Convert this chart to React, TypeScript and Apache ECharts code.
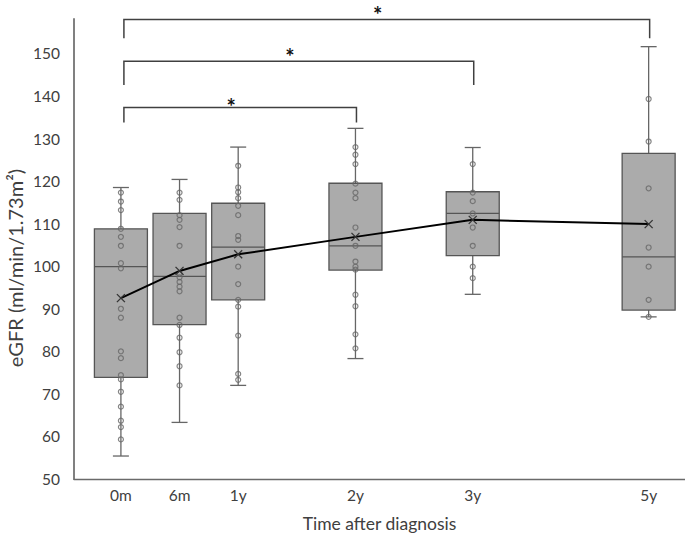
import React, { useEffect, useRef } from 'react';
import * as echarts from 'echarts';

// Categories and their position along the time axis
const categories = ['0m', '6m', '1y', '2y', '3y', '5y'];
const axisPositions = [0, 0.5, 1, 2, 3, 4.5];

// Box statistics
const whiskerMin = [55.4, 63.3, 72.0, 78.3, 93.4, 88.1];
const quartile1 = [73.9, 86.3, 92.1, 99.1, 102.5, 89.7];
const medians = [99.9, 97.6, 104.5, 104.8, 112.4, 102.2];
const quartile3 = [108.8, 112.4, 114.8, 119.5, 117.5, 126.5];
const whiskerMax = [118.5, 120.4, 128.0, 132.4, 127.9, 151.6];
const means = [92.5, 98.9, 102.8, 106.9, 110.9, 109.9];

// Individual points
const points0m = [117.3, 115.2, 113.2, 108.8, 106.9, 104.8, 100.7, 99.5, 90.0, 87.9, 80.0, 78.4, 74.4, 73.4, 70.5, 67.0, 63.7, 62.2, 59.3];
const points6m = [117.3, 115.6, 112.0, 110.9, 109.2, 104.8, 98.2, 97.4, 96.3, 95.2, 94.1, 87.9, 86.2, 83.2, 79.8, 76.5, 72.0];
const points1y = [123.6, 118.5, 117.4, 116.0, 114.2, 112.0, 107.1, 106.2, 99.9, 95.8, 92.1, 90.5, 83.7, 74.7, 73.3];
const points2y = [128.0, 126.2, 124.0, 119.4, 117.3, 116.0, 109.1, 104.8, 101.1, 99.9, 99.2, 93.3, 90.6, 84.0, 80.7];
const points3y = [124.0, 117.3, 115.3, 112.4, 109.1, 104.8, 99.9, 97.2];
const points5y = [139.3, 129.3, 118.3, 104.4, 99.9, 92.1, 88.1];
const pointGroups = [points0m, points6m, points1y, points2y, points3y, points5y];

// Significance brackets: [from index, to index]
const comparePairs = [[0, 3], [0, 4], [0, 5]];
const bracketTop = [137.3, 148.2, 158.0];
const bracketLegEnd = [133.8, 142.6, 153.6];
const significanceMark = ['*', '*', '*'];

// Y axis ticks
const yMin = 50;
const yMax = 158.1;
const yInterval = 10;
const yLabelMax = 150;

const FONT = 'Lato, "Noto Sans", sans-serif';
const STAR_LIFT = [1, 5, 5];

export default function App() {
  const ref = useRef<HTMLDivElement>(null);

  useEffect(() => {
    if (!ref.current) return;
    const chart = echarts.init(ref.current, undefined, { renderer: 'svg' });

    const boxData = categories.map((_, i) => [
      axisPositions[i], whiskerMin[i], quartile1[i], medians[i], quartile3[i], whiskerMax[i],
    ]);
    const scatterData: number[][] = [];
    pointGroups.forEach((g, i) => g.forEach((v) => scatterData.push([axisPositions[i], v])));
    const meanData = categories.map((_, i) => [axisPositions[i], means[i]]);
    const bracketData = comparePairs.map((p, i) => [
      axisPositions[p[0]], axisPositions[p[1]], bracketTop[i], bracketLegEnd[i], i,
    ]);

    const whiskerStyle = { stroke: '#666', lineWidth: 1.3 };

    chart.setOption({
      animation: false,
      grid: { left: 74, right: 0, top: 19, bottom: 60, containLabel: false },
      xAxis: {
        type: 'value',
        min: -0.4,
        max: 4.81,
        name: 'Time after diagnosis',
        nameLocation: 'middle',
        nameGap: 35,
        nameTextStyle: { fontFamily: FONT, fontSize: 17.5, color: '#404040' },
        axisLine: { show: true, onZero: false, lineStyle: { color: '#6a6a6a', width: 1.3 } },
        axisTick: { show: false },
        splitLine: { show: false },
        axisLabel: {
          customValues: axisPositions,
          formatter: (v: number) => {
            const idx = axisPositions.findIndex((p) => Math.abs(p - v) < 1e-6);
            return idx >= 0 ? categories[idx] : '';
          },
          fontFamily: FONT,
          fontSize: 15.5,
          color: '#404040',
          margin: 8,
        },
      },
      yAxis: {
        type: 'value',
        position: 'left',
        min: yMin,
        max: yMax,
        interval: yInterval,
        axisLine: { show: true, onZero: false, lineStyle: { color: '#808080', width: 2 } },
        axisTick: { show: false },
        splitLine: { show: false },
        axisLabel: {
          formatter: (v: number) => (v <= yLabelMax && Math.abs(v % yInterval) < 1e-6 ? String(v) : ''),
          fontFamily: FONT,
          fontSize: 15.5,
          color: '#404040',
          margin: 14,
          showMaxLabel: false,
        },
      },
      graphic: [
        {
          type: 'text',
          x: 15,
          y: 268,
          rotation: Math.PI / 2,
          style: {
            text: 'eGFR (ml/min/1.73m²)',
            font: `20px ${FONT}`,
            fill: '#404040',
            textAlign: 'center',
            textVerticalAlign: 'middle',
          },
        },
      ],
      series: [
        {
          type: 'custom',
          name: 'box',
          z: 2,
          encode: { x: 0, y: [1, 2, 3, 4, 5] },
          data: boxData,
          renderItem: (params: any, api: any) => {
            const x = api.value(0);
            const pMin = api.coord([x, api.value(1)]);
            const pQ1 = api.coord([x, api.value(2)]);
            const pMed = api.coord([x, api.value(3)]);
            const pQ3 = api.coord([x, api.value(4)]);
            const pMax = api.coord([x, api.value(5)]);
            const cx = pMin[0];
            const hw = 26.5;
            const cw = 8;
            return {
              type: 'group',
              children: [
                { type: 'line', shape: { x1: cx, y1: pMax[1], x2: cx, y2: pQ3[1] }, style: whiskerStyle },
                { type: 'line', shape: { x1: cx, y1: pQ1[1], x2: cx, y2: pMin[1] }, style: whiskerStyle },
                { type: 'line', shape: { x1: cx - cw, y1: pMax[1], x2: cx + cw, y2: pMax[1] }, style: whiskerStyle },
                { type: 'line', shape: { x1: cx - cw, y1: pMin[1], x2: cx + cw, y2: pMin[1] }, style: whiskerStyle },
                {
                  type: 'rect',
                  shape: { x: cx - hw, y: pQ3[1], width: hw * 2, height: pQ1[1] - pQ3[1] },
                  style: { fill: '#ababab', stroke: '#555', lineWidth: 1.3 },
                },
                { type: 'line', shape: { x1: cx - hw, y1: pMed[1], x2: cx + hw, y2: pMed[1] }, style: { stroke: '#555', lineWidth: 1.3 } },
              ],
            };
          },
        },
        {
          type: 'scatter',
          name: 'points',
          z: 3,
          data: scatterData,
          symbol: 'circle',
          symbolSize: 5,
          itemStyle: { color: 'rgba(0,0,0,0)', borderColor: '#666', borderWidth: 1.2 },
        },
        {
          type: 'line',
          name: 'mean',
          z: 4,
          data: meanData,
          showSymbol: false,
          symbol: 'none',
          lineStyle: { color: '#000', width: 2 },
        },
        {
          type: 'custom',
          name: 'meanMarker',
          z: 5,
          data: meanData,
          encode: { x: 0, y: 1 },
          renderItem: (params: any, api: any) => {
            const p = api.coord([api.value(0), api.value(1)]);
            const s = 4;
            const st = { stroke: '#333', lineWidth: 1.3 };
            return {
              type: 'group',
              children: [
                { type: 'line', shape: { x1: p[0] - s, y1: p[1] - s, x2: p[0] + s, y2: p[1] + s }, style: st },
                { type: 'line', shape: { x1: p[0] - s, y1: p[1] + s, x2: p[0] + s, y2: p[1] - s }, style: st },
              ],
            };
          },
        },
        {
          type: 'custom',
          name: 'brackets',
          z: 6,
          clip: false,
          data: bracketData,
          encode: { x: [0, 1], y: [2, 3] },
          renderItem: (params: any, api: any) => {
            const pL = api.coord([api.value(0), api.value(2)]);
            const pR = api.coord([api.value(1), api.value(2)]);
            const pEnd = api.coord([api.value(0), api.value(3)]);
            const idx = api.value(4);
            const lx = pL[0] + 3;
            const rx = pR[0] + 1;
            return {
              type: 'group',
              children: [
                {
                  type: 'polyline',
                  shape: { points: [[lx, pEnd[1]], [lx, pL[1]], [rx, pL[1]], [rx, pEnd[1]]] },
                  style: { stroke: '#404040', lineWidth: 1.5, fill: 'none' },
                },
                {
                  type: 'text',
                  x: (lx + rx) / 2 - 9,
                  y: pL[1] - STAR_LIFT[idx],
                  style: {
                    text: significanceMark[idx],
                    font: `bold 22px ${FONT}`,
                    fill: '#111',
                    textAlign: 'center',
                    textVerticalAlign: 'middle',
                  },
                },
              ],
            };
          },
        },
      ],
    });

    return () => chart.dispose();
  }, []);

  return (
    <div
      ref={ref}
      style={{ position: 'fixed', left: 0, top: 0, width: 685, height: 539, background: '#fff' }}
    />
  );
}
